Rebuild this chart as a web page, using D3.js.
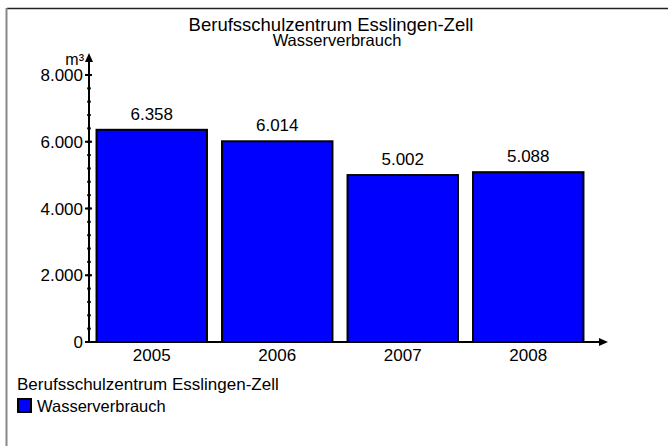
<!DOCTYPE html>
<html><head><meta charset="utf-8">
<script src="https://cdn.jsdelivr.net/npm/d3@7"></script>
<style>body{margin:0;background:#fff}svg{display:block;font-family:"Liberation Sans",Arial,sans-serif}</style>
</head><body>
<svg id="c" width="668" height="448"></svg>
<script>
const categories = ["2005","2006","2007","2008"];
const values = [6358, 6014, 5002, 5088];
const yTicks = [0, 2000, 4000, 6000, 8000];
const title = "Berufsschulzentrum Esslingen-Zell";
const subtitle = "Wasserverbrauch";
const unit = "m³";

const svg = d3.select("#c");
const fmt = v => d3.format(",")(v).replace(/,/g, ".");

// frame (top + left)
svg.append("line").attr("x1",7).attr("x2",668).attr("y1",8.5).attr("y2",8.5).attr("stroke","#222").attr("stroke-width",1.5);
svg.append("line").attr("x1",6.5).attr("x2",6.5).attr("y1",8).attr("y2",446).attr("stroke","#888").attr("stroke-width",2);

svg.append("text").attr("x",331).attr("y",30.5).attr("text-anchor","middle").attr("font-size",18.5).text(title);
svg.append("text").attr("x",337).attr("y",46).attr("text-anchor","middle").attr("font-size",16.5).text(subtitle);

const x = d3.scaleBand().domain(categories).range([89, 591]).paddingInner(0.12).paddingOuter(0.06);
const y = d3.scaleLinear().domain([0, 8000]).range([342, 75]);

// bars
svg.selectAll("rect.bar").data(values).join("rect").attr("class","bar")
  .attr("x",(d,i)=>x(categories[i])).attr("width",x.bandwidth())
  .attr("y",d=>y(d)).attr("height",d=>y(0)-y(d))
  .attr("fill","#0000ff").attr("stroke","#000").attr("stroke-width",2);

svg.selectAll("text.val").data(values).join("text").attr("class","val")
  .attr("x",(d,i)=>x(categories[i])+x.bandwidth()/2).attr("y",d=>y(d)-10)
  .attr("text-anchor","middle").attr("font-size",17).text(d=>fmt(d));

// y axis
const ax = 89;
svg.append("line").attr("x1",ax).attr("x2",ax).attr("y1",y(0)+1).attr("y2",58).attr("stroke","#000").attr("stroke-width",2);
svg.append("path").attr("d",`M${ax-4},${62} L${ax},${53} L${ax+4},${62} Z`).attr("fill","#000");
const minor = d3.range(0, 8001, 400);
svg.selectAll("line.mt").data(minor).join("line").attr("class","mt")
  .attr("x1",ax-1.8).attr("x2",ax+1.8).attr("y1",d=>y(d)).attr("y2",d=>y(d)).attr("stroke","#000").attr("stroke-width",2);
svg.selectAll("line.Mt").data(yTicks).join("line").attr("class","Mt")
  .attr("x1",ax-4).attr("x2",ax+3).attr("y1",d=>y(d)).attr("y2",d=>y(d)).attr("stroke","#000").attr("stroke-width",2);
svg.selectAll("text.yt").data(yTicks).join("text").attr("class","yt")
  .attr("x",83).attr("y",d=>y(d)+6).attr("text-anchor","end").attr("font-size",17).text(d=>fmt(d));
svg.append("text").attr("x",84).attr("y",65).attr("text-anchor","end").attr("font-size",16).text(unit);

// x axis
svg.append("line").attr("x1",ax-1).attr("x2",603).attr("y1",y(0)).attr("y2",y(0)).attr("stroke","#000").attr("stroke-width",2);
svg.append("path").attr("d",`M${599},${y(0)-4} L${608},${y(0)} L${599},${y(0)+4} Z`).attr("fill","#000");
svg.selectAll("text.xt").data(categories).join("text").attr("class","xt")
  .attr("x",d=>x(d)+x.bandwidth()/2).attr("y",361).attr("text-anchor","middle").attr("font-size",17).text(d=>d);

// legend
svg.append("text").attr("x",17).attr("y",390).attr("font-size",17).text(title);
svg.append("rect").attr("x",18).attr("y",399).attr("width",13).attr("height",13).attr("fill","#0000ff").attr("stroke","#000").attr("stroke-width",2);
svg.append("text").attr("x",37).attr("y",412).attr("font-size",16.5).text(subtitle);
</script>
</body></html>
